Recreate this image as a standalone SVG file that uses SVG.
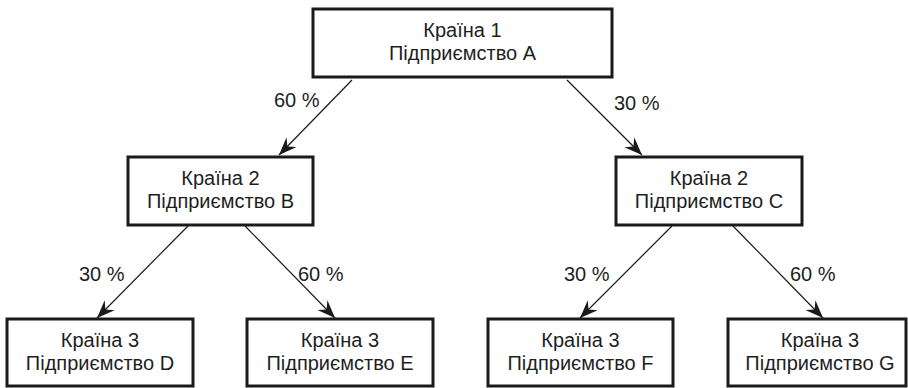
<svg xmlns="http://www.w3.org/2000/svg" width="908" height="388" viewBox="0 0 908 388">
  <style>
    .box { fill: #ffffff; stroke: #1a1a1a; stroke-width: 3; }
    .t { font-family: "Liberation Sans", Arial, sans-serif; font-size: 20px; fill: #1e1e1e; text-anchor: middle; }
    .lbl { font-family: "Liberation Sans", Arial, sans-serif; font-size: 20px; fill: #1e1e1e; }
    .edge { stroke: #1a1a1a; stroke-width: 1.2; fill: none; marker-end: url(#arr); }
  </style>
  <defs>
    <marker id="arr" markerUnits="userSpaceOnUse" markerWidth="22" markerHeight="18" viewBox="-20 -9 22 18" refX="0" refY="0" orient="auto">
      <path d="M0,0 L-18,-7 L-12,0 L-18,7 Z" fill="#1a1a1a"/>
    </marker>
  </defs>
  <rect width="908" height="388" fill="#ffffff"/>

  <g id="connectors">
    <line class="edge" x1="352" y1="80" x2="279" y2="155"/>
    <line class="edge" x1="567" y1="80" x2="642" y2="155"/>
    <line class="edge" x1="188" y1="226" x2="97" y2="318"/>
    <line class="edge" x1="245" y1="226" x2="335" y2="318"/>
    <line class="edge" x1="672" y1="226" x2="580" y2="318"/>
    <line class="edge" x1="733" y1="226" x2="823" y2="318"/>
    <text class="lbl" x="274" y="107">60 %</text>
    <text class="lbl" x="614" y="110">30 %</text>
    <text class="lbl" x="79" y="281">30 %</text>
    <text class="lbl" x="298" y="281">60 %</text>
    <text class="lbl" x="564" y="281">30 %</text>
    <text class="lbl" x="790" y="281">60 %</text>
  </g>

  <g id="nodeA">
    <rect class="box" x="313" y="9" width="299" height="68"/>
    <text class="t" x="462.5" y="37">Країна 1</text>
    <text class="t" x="462.5" y="60">Підприємство А</text>
  </g>
  <g id="nodeB">
    <rect class="box" x="128" y="157" width="185" height="68"/>
    <text class="t" x="220.5" y="185">Країна 2</text>
    <text class="t" x="220.5" y="208">Підприємство В</text>
  </g>
  <g id="nodeC">
    <rect class="box" x="616" y="157" width="186" height="68"/>
    <text class="t" x="709" y="185">Країна 2</text>
    <text class="t" x="709" y="208">Підприємство С</text>
  </g>
  <g id="nodeD">
    <rect class="box" x="7" y="319" width="186" height="67"/>
    <text class="t" x="100" y="347">Країна 3</text>
    <text class="t" x="100" y="370">Підприємство D</text>
  </g>
  <g id="nodeE">
    <rect class="box" x="247" y="319" width="186" height="67"/>
    <text class="t" x="340" y="347">Країна 3</text>
    <text class="t" x="340" y="370">Підприємство E</text>
  </g>
  <g id="nodeF">
    <rect class="box" x="488" y="319" width="185" height="67"/>
    <text class="t" x="580.5" y="347">Країна 3</text>
    <text class="t" x="580.5" y="370">Підприємство F</text>
  </g>
  <g id="nodeG">
    <rect class="box" x="728" y="319" width="178" height="67"/>
    <text class="t" x="820" y="347">Країна 3</text>
    <text class="t" x="820" y="370">Підприємство G</text>
  </g>
</svg>
